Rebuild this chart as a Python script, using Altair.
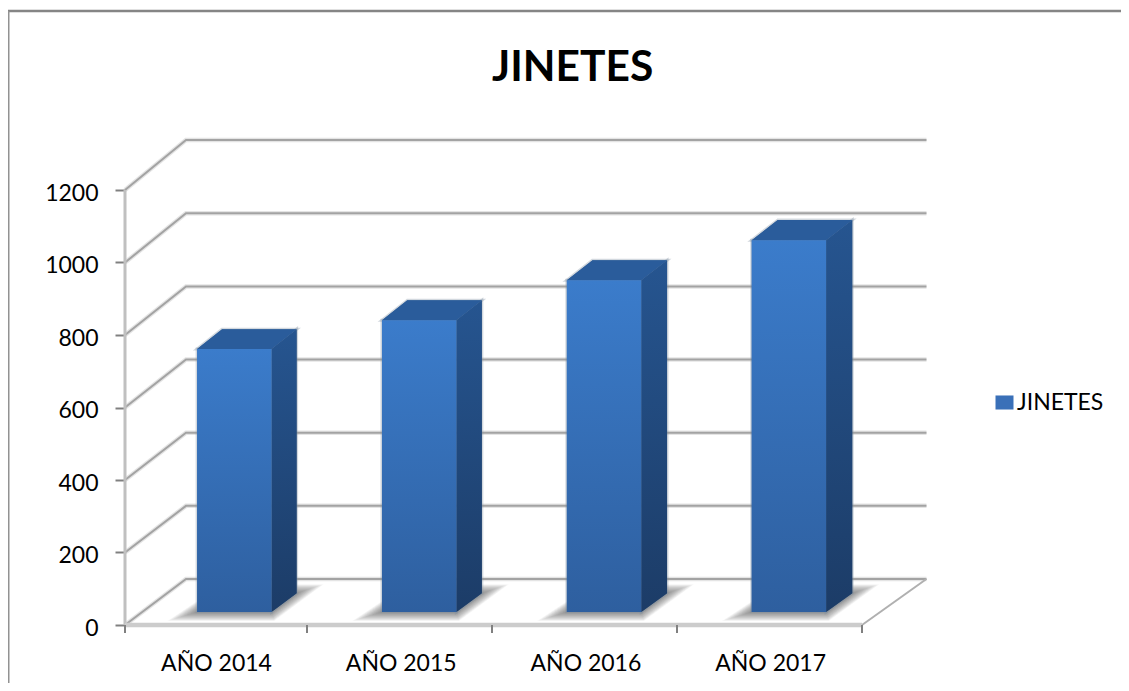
import json
import altair as alt
import pandas as pd

categories = ["AÑO 2014", "AÑO 2015", "AÑO 2016", "AÑO 2017"]
values = [724, 803, 913, 1023]
series_name = "JINETES"
y_ticks = [0, 200, 400, 600, 800, 1000, 1200]
grid_levels = [200, 400, 600, 800, 1000, 1200]

W, H = 801, 486
PX_X, PX_Y = 184.25, 0.3625
XMAX, YMAX = W / PX_X, H / PX_Y
DX, DY = 61 / PX_X, 46 / PX_Y
D0, D1 = 0.2826, 0.69
BAR_L, BAR_W = 54.8 / PX_X, 74.3 / PX_X
BAR_STEP = 1.002
FONT = "Lato"
n = len(categories)


def px(c, v, d):
    return c * (1 + 0.0047 * d) + d * DX, v * (1 + 0.009 * d) + d * DY


xs = alt.Scale(domain=[0, XMAX], nice=False, zero=False)
ys = alt.Scale(domain=[0, YMAX], nice=False, zero=False)
X = lambda f="x": alt.X(f + ":Q", scale=xs, title=None)
Y = lambda f="y": alt.Y(f + ":Q", scale=ys, title=None)

# grid lines
grid = []
for lv in grid_levels + [0]:
    for c, d in [(0, 0), (0, 1), (n, 1)]:
        a, b = px(c, lv, d)
        grid.append({"lv": lv, "x": a, "y": b, "o": len(grid)})
grid_df = pd.DataFrame(grid)
grid_halo = alt.Chart(grid_df).mark_line(stroke="#d9d9d9", strokeWidth=4.5, opacity=0.7).encode(
    x=X(), y=Y(), detail="lv:N", order="o:Q")
grid_line = alt.Chart(grid_df).mark_line(stroke="#a3a3a3", strokeWidth=2).encode(
    x=X(), y=Y(), detail="lv:N", order="o:Q")

# floor front + right edge, left wall
edge_r = pd.DataFrame([dict(zip("xy", px(n, 0, 0))), dict(zip("xy", px(n, 0, 1)))])
edge_r_m = alt.Chart(edge_r).mark_line(stroke="#b0b0b0", strokeWidth=2).encode(x=X(), y=Y())
front = pd.DataFrame([{"x": 0, "y": 0}, {"x": n, "y": 0}])
front_h = alt.Chart(front).mark_line(stroke="#cccccc", strokeWidth=4.5).encode(x=X(), y=Y())
wall = pd.DataFrame([{"x": 0, "y": 0}, {"x": 0, "y": 1200}])
wall_m = alt.Chart(wall).mark_line(stroke="#c0c0c0", strokeWidth=3).encode(x=X(), y=Y())

# x ticks
tick_x = [0] + [(182 + 185 * k) / PX_X for k in range(n)]
tick_df = pd.DataFrame({"x": tick_x})
x_ticks = alt.Chart(tick_df).mark_rule(stroke="#808080", strokeWidth=2).encode(
    x=X(), y=alt.value(H), y2=alt.value(H + 8))

# floor shadows: nested blurred parallelograms
shadow = []
LAYERS = 20
for i in range(n):
    base = i * BAR_STEP + BAR_L
    for k in range(LAYERS):
        grow = 1 - k / LAYERS
        gx = grow * 27 / PX_X
        gy = grow * 9 / PX_Y
        x0, y0 = px(base, 0, D0)
        x1, _ = px(base + BAR_W, 0, D0)
        x2, y2 = px(base, 0, D1)
        x3, _ = px(base + BAR_W, 0, D1)
        sid = f"{i}-{k}"
        shadow.append({"id": sid, "k": k, "y": y0 - gy, "xa": x0 - 1.1 * gx, "xb": x1 + 0.1 * gx})
        shadow.append({"id": sid, "k": k, "y": y2 + gy, "xa": x2, "xb": x3 + gx})
shadow_m = alt.Chart(pd.DataFrame(shadow)).mark_area(
    orient="horizontal", fill="#4d4d4d", opacity=0.04
).encode(y=Y(), x=X("xa"), x2="xb:Q", detail="id:N", order=alt.Order("k:Q"))

# bars
front_rows, side_rows, top_rows = [], [], []
for i, v in enumerate(values):
    l = i * BAR_STEP + BAR_L
    r = l + BAR_W
    xl, yt = px(l, v, D0)
    xr, yb = px(r, 0, D0)
    front_rows.append({"cat": categories[i], "x": xl, "x2": xr, "y": yb, "y2": yt})
    xbr, ybb = px(r, 0, D1)
    _, ybt = px(r, v, D1)
    side_rows += [{"cat": categories[i], "x": xr, "y": yb, "y2": yt},
                  {"cat": categories[i], "x": xbr, "y": ybb, "y2": ybt}]
    xbl, _ = px(l, v, D1)
    top_rows += [{"cat": categories[i], "y": yt, "xa": xl, "xb": xr},
                 {"cat": categories[i], "y": ybt, "xa": xbl, "xb": xbr}]

grad = lambda top, bottom: alt.Gradient(
    gradient="linear", x1=0, y1=0, x2=0, y2=1,
    stops=[alt.GradientStop(color=top, offset=0), alt.GradientStop(color=bottom, offset=1)])

front_df, side_df, top_df = pd.DataFrame(front_rows), pd.DataFrame(side_rows), pd.DataFrame(top_rows)
HALO = dict(stroke="#7f8ea0", strokeWidth=3, strokeOpacity=0.35)
front_halo = alt.Chart(front_df).mark_rect(fill="#2e5f9f", **HALO).encode(
    x=X(), x2="x2:Q", y=Y(), y2="y2:Q")
side_halo = alt.Chart(side_df).mark_area(fill="#1c3c67", **HALO).encode(
    x=X(), y=Y(), y2="y2:Q", detail="cat:N")
top_halo = alt.Chart(top_df).mark_area(orient="horizontal", fill="#2a5c9b", **HALO).encode(
    y=Y(), x=X("xa"), x2="xb:Q", detail="cat:N")
front_m = alt.Chart(front_df).mark_rect(
    color=grad("#3b7ccb", "#2e5f9f")).encode(x=X(), x2="x2:Q", y=Y(), y2="y2:Q")
side_m = alt.Chart(side_df).mark_area(
    color=grad("#265590", "#1c3c67")).encode(x=X(), y=Y(), y2="y2:Q", detail="cat:N")
top_m = alt.Chart(top_df).mark_area(
    orient="horizontal", color="#2a5c9b").encode(y=Y(), x=X("xa"), x2="xb:Q", detail="cat:N")

# axes + legend holder
label_x = [(91 + 184.7 * i) / PX_X for i in range(n)]
axis_df = pd.DataFrame({"x": label_x, "y": [0] * n, "series": [series_name] * n})
label_expr = "%s[floor(datum.value)]" % json.dumps(categories, ensure_ascii=False)
axes = alt.Chart(axis_df).mark_point(filled=True, size=0).encode(
    x=alt.X("x:Q", scale=xs, title=None, axis=alt.Axis(
        values=label_x, labelExpr=label_expr, grid=False, domain=False,
        ticks=False, labelFont=FONT, labelFontSize=23, labelColor="#000000", labelPadding=27,
        labelAngle=0)),
    y=alt.Y("y:Q", scale=ys, title=None, axis=alt.Axis(
        values=y_ticks, format="d", grid=False, domain=False, tickSize=10, tickWidth=2,
        tickColor="#808080", labelFont=FONT, labelFontSize=23, labelColor="#000000",
        labelPadding=17, labelOffset=3)),
    color=alt.Color("series:N", scale=alt.Scale(range=["#3a70b8"]), legend=alt.Legend(
        title=None, orient="none", legendX=868, legendY=252, symbolType="M-1,-0.78H1V0.78H-1Z",
        symbolSize=324, symbolStrokeWidth=0, symbolOpacity=1, labelFont=FONT, labelFontSize=23,
        labelColor="#000000", labelOffset=1)),
)

# chart frame
frame_top = alt.Chart(pd.DataFrame({"a": [0]})).mark_rule(stroke="#858585", strokeWidth=2.5).encode(
    x=alt.value(-117), x2=alt.value(W + 195), y=alt.value(-128))
frame_left = alt.Chart(pd.DataFrame({"a": [0]})).mark_rule(stroke="#929292", strokeWidth=3).encode(
    x=alt.value(-117), y=alt.value(-128), y2=alt.value(H + 58))

chart = alt.layer(
    frame_top, frame_left, grid_halo, grid_line, edge_r_m, wall_m, front_h, x_ticks,
    shadow_m, side_halo, top_halo, front_halo, side_m, top_m, front_m, axes,
).properties(
    width=W, height=H,
    padding={"left": 117, "top": 131, "right": 195, "bottom": 58},
    autosize=alt.AutoSizeParams(type="none"),
    title=alt.TitleParams("JINETES", font=FONT, fontSize=42.5, fontWeight="bold", color="#000000",
                          anchor="start", frame="group", dx=367, dy=80, align="left", offset=0),
).configure_view(stroke=None)

chart.save("out.html", embed_options={"renderer": "svg", "actions": False})
